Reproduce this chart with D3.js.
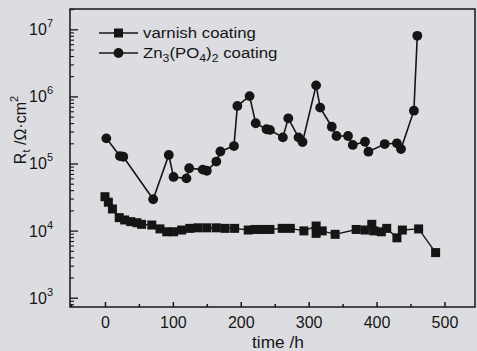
<!DOCTYPE html>
<html><head><meta charset="utf-8">
<script src="https://cdn.jsdelivr.net/npm/d3@7"></script>
<style>
html,body{margin:0;padding:0;background:#dcdde1;}
svg{display:block;}
text{font-family:"Liberation Sans",Arial,sans-serif;fill:#151515;}
</style></head>
<body>
<svg id="c" width="477" height="351"></svg>
<script>
const varnishTime = [0,5,11,21,29,38,47,54,69,81,91,101,113,125,137,150,164,177,191,211,221,231,243,261,273,293,311,311,320,339,370,383,393,396,407,415,430,438,462,487];
const varnishRt = [3.2e4,2.65e4,2.1e4,1.56e4,1.44e4,1.36e4,1.31e4,1.24e4,1.21e4,1.06e4,9.6e3,9.6e3,1.02e4,1.08e4,1.1e4,1.1e4,1.1e4,1.08e4,1.08e4,1.02e4,1.04e4,1.04e4,1.04e4,1.08e4,1.08e4,9.9e3,1.17e4,9.1e3,9.9e3,8.8e3,1.04e4,1.02e4,1.24e4,9.9e3,9.6e3,1.08e4,7.8e3,1.02e4,1.06e4,4.7e3];
const znTime = [2,22,27,71,94,101,120,124,144,150,164,170,190,195,213,222,238,243,262,270,285,291,311,317,334,341,358,365,383,388,412,430,436,455,460];
const znRt = [2.37e5,1.29e5,1.26e5,2.93e4,1.34e5,6.3e4,6.0e4,8.5e4,8.1e4,7.8e4,1.07e5,1.51e5,1.82e5,7.2e5,1.01e6,3.98e5,3.24e5,3.16e5,2.45e5,4.72e5,2.45e5,2.09e5,1.46e6,6.8e5,3.53e5,2.57e5,2.57e5,1.89e5,2.11e5,1.5e5,1.95e5,2.0e5,1.64e5,6.12e5,8.0e6];
const xTicks = [0,100,200,300,400,500];
const yTickExps = [3,4,5,6,7];
const seriesNames = ["varnish coating","Zn3(PO4)2 coating"];

const L=70, R=475, T=9, B=307;
const svg = d3.select("#c");
const x = d3.scaleLinear().domain([-51.5,545]).range([L,R]);
const y = d3.scaleLog().domain([Math.pow(10,2.8614),Math.pow(10,7.3025)]).range([B,T]);
const ink = "#151515";

// frame
svg.append("rect").attr("x",L).attr("y",T).attr("width",R-L).attr("height",B-T)
  .attr("fill","none").attr("stroke",ink).attr("stroke-width",1.5);

// x axis ticks (inward)
const xMinor = d3.range(-50,550,50).filter(v=>xTicks.indexOf(v)<0);
const xa = svg.append("g").attr("transform",`translate(0,${B})`)
  .call(d3.axisBottom(x).tickValues(xTicks).tickSize(-5).tickPadding(10).tickFormat(d3.format("d")));
xa.select(".domain").remove();
xa.selectAll("line").attr("stroke",ink).attr("stroke-width",1.5);
xa.selectAll("text").attr("font-size",16).attr("fill",ink).attr("font-family","Liberation Sans, Arial, sans-serif");
svg.append("g").attr("transform",`translate(0,${B})`)
  .call(d3.axisBottom(x).tickValues(xMinor.filter(v=>v>-51.5)).tickSize(-3).tickFormat(""))
  .call(g=>{g.select(".domain").remove();g.selectAll("line").attr("stroke",ink).attr("stroke-width",1.5);});

// y axis ticks
const yMajor = yTickExps.map(e=>Math.pow(10,e));
const yMinor = [];
for(let e=2;e<=7;e++) for(let m=2;m<=9;m++){const v=m*Math.pow(10,e); if(v>=y.domain()[0]&&v<=y.domain()[1]) yMinor.push(v);}
svg.append("g").attr("transform",`translate(${L},0)`)
  .call(d3.axisLeft(y).tickValues(yMajor).tickSize(-8).tickFormat(""))
  .call(g=>{g.select(".domain").remove();g.selectAll("line").attr("stroke",ink).attr("stroke-width",1.3);});
svg.append("g").attr("transform",`translate(${L},0)`)
  .call(d3.axisLeft(y).tickValues(yMinor).tickSize(-4).tickFormat(""))
  .call(g=>{g.select(".domain").remove();g.selectAll("line").attr("stroke",ink).attr("stroke-width",1.1);});
// y labels 10^n
yTickExps.forEach(e=>{
  const t = svg.append("text").attr("x",53).attr("y",y(Math.pow(10,e))+6)
    .attr("text-anchor","end").attr("font-size",16);
  t.append("tspan").text("10");
  t.append("tspan").attr("dy",-8).attr("font-size",11).text(e);
});

// axis titles
svg.append("text").attr("x",278).attr("y",348).attr("text-anchor","middle").attr("font-size",16)
  .attr("transform","translate(278,0) scale(1.08,1) translate(-278,0)").text("time /h");
const yt = svg.append("text").attr("transform","translate(26,130) rotate(-90)")
  .attr("text-anchor","middle").attr("font-size",16);
yt.append("tspan").text("R");
yt.append("tspan").attr("dy",4).attr("font-size",11).text("t");
yt.append("tspan").attr("dy",-4).text(" /Ω·cm");
yt.append("tspan").attr("dy",-8).attr("font-size",11).text("2");

// lines
const line = d3.line().x(d=>x(d[0])).y(d=>y(d[1]));
const vData = varnishTime.map((t,i)=>[t,varnishRt[i]]);
const zData = znTime.map((t,i)=>[t,znRt[i]]);
svg.append("path").datum(vData).attr("d",line).attr("fill","none").attr("stroke",ink).attr("stroke-width",1.4);
svg.append("path").datum(zData).attr("d",line).attr("fill","none").attr("stroke",ink).attr("stroke-width",1.6);
svg.selectAll("rect.sq").data(vData).enter().append("rect").attr("class","sq")
  .attr("x",d=>x(d[0])-4.5).attr("y",d=>y(d[1])-4.5).attr("width",9).attr("height",9).attr("fill",ink);
svg.selectAll("circle.ci").data(zData).enter().append("circle").attr("class","ci")
  .attr("cx",d=>x(d[0])).attr("cy",d=>y(d[1])).attr("r",4.9).attr("fill",ink);

// legend
const lg = svg.append("g");
[[33,"sq"],[53,"ci"]].forEach(([ly,kind],i)=>{
  lg.append("line").attr("x1",99).attr("x2",138).attr("y1",ly).attr("y2",ly).attr("stroke",ink).attr("stroke-width",1.6);
  if(kind==="sq") lg.append("rect").attr("x",114).attr("y",ly-4.5).attr("width",9).attr("height",9).attr("fill",ink);
  else lg.append("circle").attr("cx",118.5).attr("cy",ly).attr("r",4.9).attr("fill",ink);
});
const t1 = lg.append("text").attr("x",143).attr("y",38.5).attr("font-size",15)
  .attr("transform","translate(143,0) scale(1.12,1) translate(-143,0)").text(seriesNames[0]);
const t2 = lg.append("text").attr("x",143).attr("y",58.5).attr("font-size",15)
  .attr("transform","translate(143,0) scale(1.12,1) translate(-143,0)");
t2.append("tspan").text("Zn");
t2.append("tspan").attr("dy",4).attr("font-size",11).text("3");
t2.append("tspan").attr("dy",-4).text("(PO");
t2.append("tspan").attr("dy",4).attr("font-size",11).text("4");
t2.append("tspan").attr("dy",-4).text(")");
t2.append("tspan").attr("dy",4).attr("font-size",11).text("2");
t2.append("tspan").attr("dy",-4).text(" coating");
</script>
</body></html>
